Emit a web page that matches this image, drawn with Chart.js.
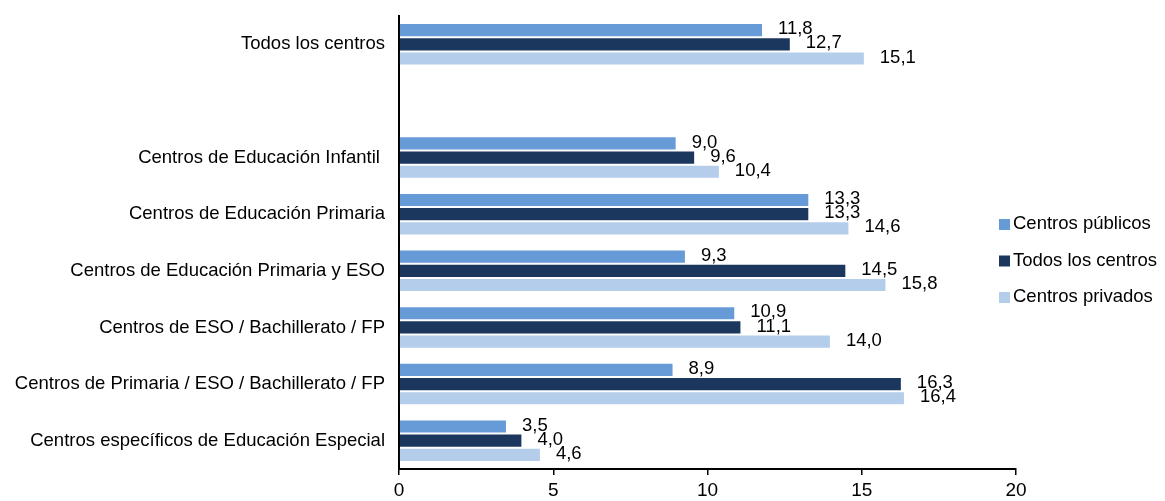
<!DOCTYPE html>
<html>
<head>
<meta charset="utf-8">
<script src="https://cdn.jsdelivr.net/npm/chart.js@4/dist/chart.umd.min.js"></script>
<style>
  html, body { margin: 0; padding: 0; background: #fff; }
  #wrap { width: 1165px; height: 501px; }
</style>
</head>
<body>
<div id="wrap"><canvas id="chart"></canvas></div>
<script>
// categories (empty slot keeps the gap under the first group)
var categories = [
    'Todos los centros',
    '',
    'Centros de Educación Infantil ',
    'Centros de Educación Primaria',
    'Centros de Educación Primaria y ESO',
    'Centros de ESO / Bachillerato / FP',
    'Centros de Primaria / ESO / Bachillerato / FP',
    'Centros específicos de Educación Especial'
];
var seriesNames = ['Centros públicos', 'Todos los centros', 'Centros privados'];
var publicos = [11.8, null, 9.0, 13.3, 9.3, 10.9, 8.9, 3.5];
var todos    = [12.7, null, 9.6, 13.3, 14.5, 11.1, 16.3, 4.0];
var privados = [15.1, null, 10.4, 14.6, 15.8, 14.0, 16.4, 4.6];
var xTicks = [0, 5, 10, 15, 20];

var colors = {
    publicos: '#669bd8',
    todos: '#1b375e',
    privados: '#b3cdeb',
    text: '#000000'
};

var FONT = '"Liberation Sans", Arial, sans-serif';

// value labels to the right of each bar, Spanish decimal comma
var valueLabels = {
    id: 'valueLabels',
    afterDatasetsDraw: function (chart) {
        var ctx = chart.ctx;
        ctx.save();
        ctx.font = '18.5px ' + FONT;
        ctx.fillStyle = colors.text;
        ctx.textAlign = 'left';
        ctx.textBaseline = 'middle';
        chart.data.datasets.forEach(function (ds, i) {
            chart.getDatasetMeta(i).data.forEach(function (bar, j) {
                var v = ds.data[j];
                if (v === null) return;
                ctx.fillText(v.toFixed(1).replace('.', ','), bar.x + 15, bar.y - 1);
            });
        });
        ctx.restore();
    }
};

// legend on the right, stacked vertically
var sideLegend = {
    id: 'sideLegend',
    afterDraw: function (chart) {
        var ctx = chart.ctx;
        var fills = [colors.publicos, colors.todos, colors.privados];
        ctx.save();
        ctx.font = '18.5px ' + FONT;
        ctx.textBaseline = 'middle';
        seriesNames.forEach(function (name, i) {
            var y = 224 + i * 36.5;
            ctx.fillStyle = fills[i];
            ctx.fillRect(999, y - 5, 11, 11);
            ctx.fillStyle = colors.text;
            ctx.fillText(name, 1013, y);
        });
        ctx.restore();
    }
};

function buildChart() {
    var ctx = document.getElementById('chart').getContext('2d');
    new Chart(ctx, {
        type: 'bar',
        data: {
            labels: categories,
            datasets: [
                { label: seriesNames[0], data: publicos, backgroundColor: colors.publicos },
                { label: seriesNames[1], data: todos, backgroundColor: colors.todos },
                { label: seriesNames[2], data: privados, backgroundColor: colors.privados }
            ].map(function (d) {
                d.borderColor = 'rgba(255,255,255,0.55)';
                d.borderWidth = 1;
                d.barPercentage = 1.0;
                d.categoryPercentage = 0.75;
                return d;
            })
        },
        options: {
            indexAxis: 'y',
            responsive: true,
            maintainAspectRatio: false,
            animation: false,
            layout: { padding: { top: 16, right: 149, bottom: 0, left: 0 } },
            plugins: {
                legend: { display: false },
                tooltip: { enabled: false }
            },
            scales: {
                x: {
                    min: 0,
                    max: 20,
                    afterBuildTicks: function (scale) {
                        scale.ticks = xTicks.map(function (v) { return { value: v }; });
                    },
                    afterFit: function (scale) {
                        scale.height = 32;
                        scale.paddingLeft = 0;
                        scale.paddingRight = 0;
                    },
                    grid: {
                        drawOnChartArea: false,
                        drawTicks: true,
                        tickLength: 6,
                        color: '#000',
                        lineWidth: 1.5
                    },
                    border: { display: true, color: '#000', width: 2 },
                    ticks: {
                        color: colors.text,
                        font: { family: FONT, size: 19 },
                        padding: 4,
                        maxRotation: 0
                    }
                },
                y: {
                    afterFit: function (scale) {
                        scale.width = 399;
                        scale.paddingTop = 0;
                        scale.paddingBottom = 0;
                    },
                    grid: { display: false, drawTicks: false },
                    border: { display: true, color: '#000', width: 2 },
                    ticks: {
                        color: colors.text,
                        font: { family: FONT, size: 18.5 },
                        padding: 14,
                        autoSkip: false
                    }
                }
            }
        },
        plugins: [valueLabels, sideLegend]
    });
}

buildChart();
</script>
</body>
</html>
